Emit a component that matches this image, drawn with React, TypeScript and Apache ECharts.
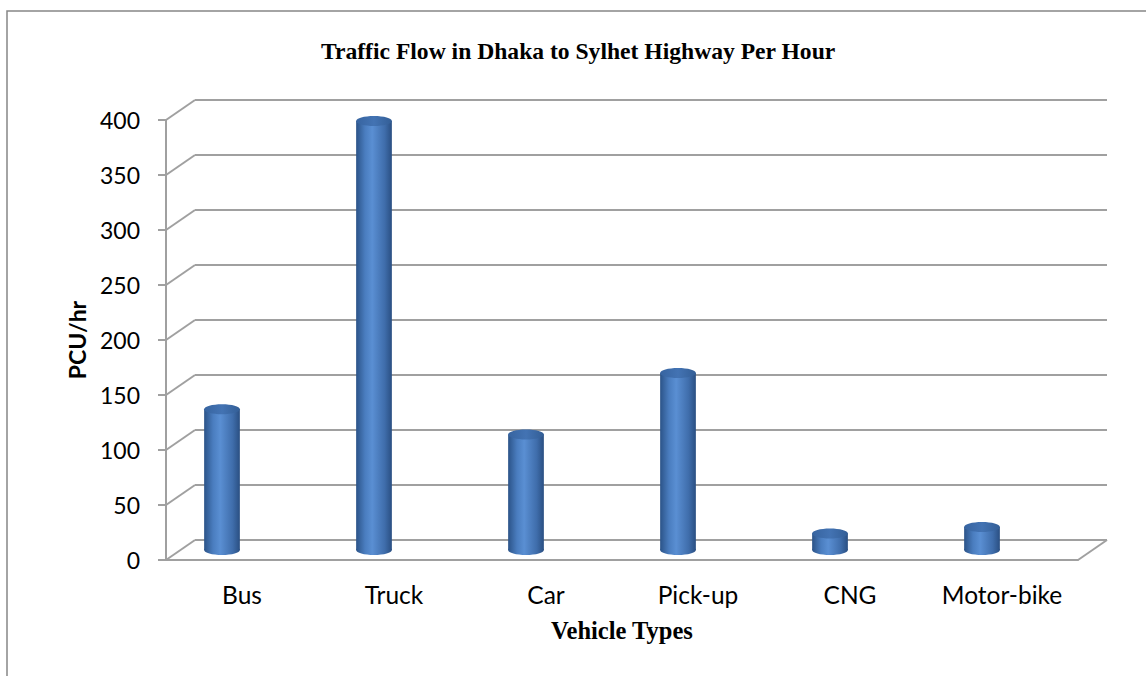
import React, { useEffect, useRef } from "react";
import * as echarts from "echarts";

const categories = ["Bus", "Truck", "Car", "Pick-up", "CNG", "Motor-bike"];
const pcuValues = [128, 390, 105, 161, 15, 21];
const yTickValues = [0, 50, 100, 150, 200, 250, 300, 350, 400];

const GRID_COLOR = "#a0a0a0";
const DEPTH_X = 29;
const DEPTH_Y = -20;
const LABEL_FONT = "Lato, 'Open Sans', sans-serif";
const SERIF_FONT = "'Liberation Serif', 'Times New Roman', serif";

export default function App() {
  const ref = useRef<HTMLDivElement>(null);

  useEffect(() => {
    if (!ref.current) return;
    const chart = echarts.init(ref.current, undefined, { renderer: "svg" });

    const wallsRender = (params: any, api: any) => {
      const v = api.value(1);
      const cs = params.coordSys;
      const y = api.coord([0, v])[1];
      const x0 = cs.x;
      const x1 = cs.x + cs.width;
      const style = { stroke: GRID_COLOR, lineWidth: 2 };
      const children: any[] = [
        { type: "line", shape: { x1: x0, y1: y, x2: x0 + DEPTH_X, y2: y + DEPTH_Y }, style },
        { type: "line", shape: { x1: x0 + DEPTH_X, y1: y + DEPTH_Y, x2: x1 + DEPTH_X, y2: y + DEPTH_Y }, style },
      ];
      if (v === 0) {
        children.push({ type: "line", shape: { x1: x1, y1: y, x2: x1 + DEPTH_X, y2: y + DEPTH_Y }, style });
      }
      return { type: "group", children };
    };

    const cylinderRender = (params: any, api: any) => {
      const idx = api.value(0);
      const val = api.value(1);
      const bottom = api.coord([idx, 0]);
      const top = api.coord([idx, val]);
      const bandW = api.size([1, 0])[0];
      const w = bandW * 0.235;
      const rx = w / 2;
      const ry = 5;
      const cx = bottom[0];
      const bodyFill = new echarts.graphic.LinearGradient(0, 0, 1, 0, [
        { offset: 0, color: "#2b5388" },
        { offset: 0.25, color: "#4a7dbf" },
        { offset: 0.45, color: "#5a8fd3" },
        { offset: 0.8, color: "#3f6dab" },
        { offset: 1, color: "#2a4f82" },
      ]);
      const capFill = new echarts.graphic.LinearGradient(0, 0, 1, 0, [
        { offset: 0, color: "#3764a0" },
        { offset: 0.5, color: "#4373b3" },
        { offset: 1, color: "#335e96" },
      ]);
      return {
        type: "group",
        children: [
          { type: "ellipse", shape: { cx, cy: bottom[1], rx, ry }, style: { fill: bodyFill } },
          { type: "rect", shape: { x: cx - rx, y: top[1], width: w, height: bottom[1] - top[1] }, style: { fill: bodyFill } },
          { type: "ellipse", shape: { cx, cy: top[1], rx, ry }, style: { fill: capFill } },
        ],
      };
    };

    chart.setOption({
      animation: false,
      backgroundColor: "#ffffff",
      title: {
        text: "Traffic Flow in Dhaka to Sylhet Highway Per Hour",
        left: 316,
        top: 34,
        textStyle: { fontFamily: SERIF_FONT, fontWeight: "bold", fontSize: 23.6, color: "#000" },
      },
      graphic: [
        {
          type: "rect",
          silent: true,
          shape: { x: 7, y: 11, width: 1200, height: 720 },
          style: { fill: "none", stroke: "#868686", lineWidth: 1.5 },
        },
      ],
      grid: [
        { left: 166, top: 120, width: 912, height: 440 },
        { left: 146, top: 110, width: 912, height: 440 },
      ],
      xAxis: [
        {
          gridIndex: 0,
          type: "category",
          data: categories,
          axisLine: { show: true, lineStyle: { color: GRID_COLOR, width: 2 } },
          axisTick: { show: false },
          axisLabel: { interval: 0, hideOverlap: false, margin: 22, fontSize: 24.5, color: "#000", fontFamily: LABEL_FONT },
          splitLine: { show: false },
          name: "Vehicle Types",
          nameLocation: "middle",
          nameGap: 58,
          nameTextStyle: { fontFamily: SERIF_FONT, fontWeight: "bold", fontSize: 24.5, color: "#000" },
        },
        { gridIndex: 1, type: "category", data: categories, show: false },
      ],
      yAxis: [
        {
          gridIndex: 0,
          type: "value",
          min: 0,
          max: 400,
          interval: 50,
          axisLine: { show: true, lineStyle: { color: GRID_COLOR, width: 2 } },
          axisTick: { show: true, length: 8, lineStyle: { color: GRID_COLOR, width: 2 } },
          splitLine: { show: false },
          axisLabel: { margin: 26, fontSize: 23, color: "#000", fontFamily: LABEL_FONT },
          name: "PCU/hr",
          nameLocation: "middle",
          nameRotate: 90,
          nameGap: 78,
          nameTextStyle: { fontFamily: LABEL_FONT, fontWeight: "bold", fontSize: 23, color: "#000" },
        },
        { gridIndex: 1, type: "value", min: 0, max: 400, interval: 50, show: false },
      ],
      series: [
        {
          type: "custom",
          name: "walls",
          xAxisIndex: 0,
          yAxisIndex: 0,
          silent: true,
          renderItem: wallsRender,
          encode: { x: 0, y: 1 },
          data: yTickValues.map((v) => [0, v]),
        },
        {
          type: "custom",
          name: "PCU/hr",
          xAxisIndex: 1,
          yAxisIndex: 1,
          renderItem: cylinderRender,
          encode: { x: 0, y: 1 },
          data: pcuValues.map((v, i) => [i, v]),
        },
      ],
    });

    return () => chart.dispose();
  }, []);

  return (
    <div
      ref={ref}
      style={{ position: "fixed", left: 0, top: 0, width: 1146, height: 676, background: "#fff" }}
    />
  );
}
